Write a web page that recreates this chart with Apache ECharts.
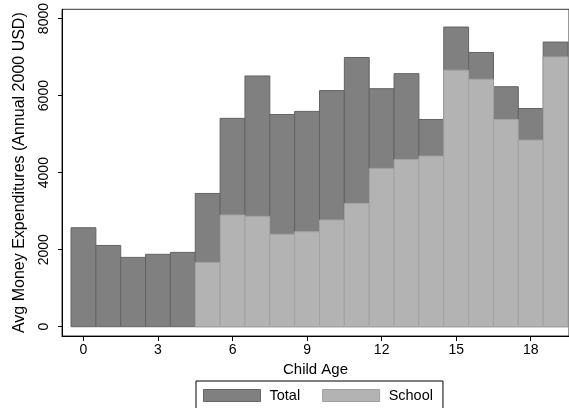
<!DOCTYPE html>
<html>
<head>
<meta charset="utf-8">
<script src="https://cdn.jsdelivr.net/npm/echarts@6/dist/echarts.min.js"></script>
<style>
  html, body { margin: 0; padding: 0; background: #fff; }
  #chart { width: 569px; height: 408px; }
</style>
</head>
<body>
<div id="chart"></div>
<script>
// Child age in years (one bar per year)
const ages = [0, 1, 2, 3, 4, 5, 6, 7, 8, 9, 10, 11, 12, 13, 14, 15, 16, 17, 18, 19];
// Average total money expenditures per child (annual, 2000 USD)
const totalSpend = [2570, 2110, 1800, 1880, 1930, 3460, 5410, 6510, 5510, 5590, 6130, 6990, 6180, 6570, 5380, 7780, 7120, 6230, 5665, 7390];
// Average school expenditures per child (annual, 2000 USD)
const schoolSpend = [0, 0, 0, 0, 0, 1670, 2900, 2865, 2400, 2465, 2770, 3200, 4110, 4340, 4430, 6660, 6425, 5380, 4845, 7005];
// Axis tick labels
const xTicks = [0, 3, 6, 9, 12, 15, 18];
const yTicks = [0, 2000, 4000, 6000, 8000];

const FONT = '"Liberation Sans", Arial, Helvetica, sans-serif';

// Each bar spans one full year centred on its age
function histBar(fill, stroke) {
  return function (params, api) {
    const x = api.value(0);
    const y = api.value(1);
    const p0 = api.coord([x - 0.5, 0]);
    const p1 = api.coord([x + 0.5, y]);
    return {
      type: 'rect',
      shape: { x: p0[0], y: p1[1], width: p1[0] - p0[0], height: p0[1] - p1[1] },
      style: { fill: fill, stroke: stroke, lineWidth: 1 }
    };
  };
}

const chart = echarts.init(document.getElementById('chart'), null, { renderer: 'canvas' });
chart.setOption({
  animation: false,
  backgroundColor: '#ffffff',
  grid: {
    left: 62, right: -1, top: 9, bottom: 72,
    show: true, borderColor: '#333333', borderWidth: 1, backgroundColor: 'transparent'
  },
  xAxis: {
    type: 'value',
    min: -0.863, max: 19.54,
    name: 'Child Age',
    nameLocation: 'middle',
    nameGap: 24,
    nameTextStyle: { fontFamily: FONT, fontSize: 15, color: '#000' },
    axisLine: { show: true, onZero: false, lineStyle: { color: '#000', width: 1 } },
    axisTick: { show: true, length: 5, customValues: xTicks, lineStyle: { color: '#000' } },
    axisLabel: { customValues: xTicks, fontFamily: FONT, fontSize: 14, color: '#000', margin: 7 },
    splitLine: { show: false }
  },
  yAxis: {
    type: 'value',
    min: -241, max: 8241,
    name: 'Avg Money Expenditures (Annual 2000 USD)',
    nameLocation: 'middle',
    nameGap: 34,
    nameRotate: 90,
    nameTextStyle: { fontFamily: FONT, fontSize: 16, color: '#000' },
    axisLine: { show: true, onZero: false, lineStyle: { color: '#000', width: 1 } },
    axisTick: { show: true, length: 4, customValues: yTicks, lineStyle: { color: '#000' } },
    axisLabel: {
      customValues: yTicks, rotate: 90, fontFamily: FONT, fontSize: 14, color: '#000', margin: 11,
      formatter: v => String(v)
    },
    splitLine: { show: false }
  },
  legend: {
    left: 196, top: 381,
    orient: 'horizontal',
    padding: [7, 10, 10, 7],
    borderColor: '#000', borderWidth: 1,
    itemWidth: 57, itemHeight: 12, itemGap: 22,
    icon: 'rect',
    textStyle: { fontFamily: FONT, fontSize: 14.5, color: '#000', padding: [0, 0, 0, 4] },
    data: [
      { name: 'Total', itemStyle: { color: '#808080', borderColor: '#666666', borderWidth: 1 } },
      { name: 'School', itemStyle: { color: '#b3b3b3', borderColor: '#a0a0a0', borderWidth: 1 } }
    ]
  },
  series: [
    {
      name: 'Total',
      type: 'custom',
      renderItem: histBar('#808080', '#636363'),
      itemStyle: { color: '#808080' },
      encode: { x: 0, y: 1 },
      data: ages.map((a, i) => [a, totalSpend[i]]),
      z: 2
    },
    {
      name: 'School',
      type: 'custom',
      renderItem: histBar('#b3b3b3', '#a2a2a2'),
      itemStyle: { color: '#b3b3b3' },
      encode: { x: 0, y: 1 },
      data: ages.map((a, i) => [a, schoolSpend[i]]).filter(d => d[1] > 0),
      z: 3
    }
  ]
});
</script>
</body>
</html>
